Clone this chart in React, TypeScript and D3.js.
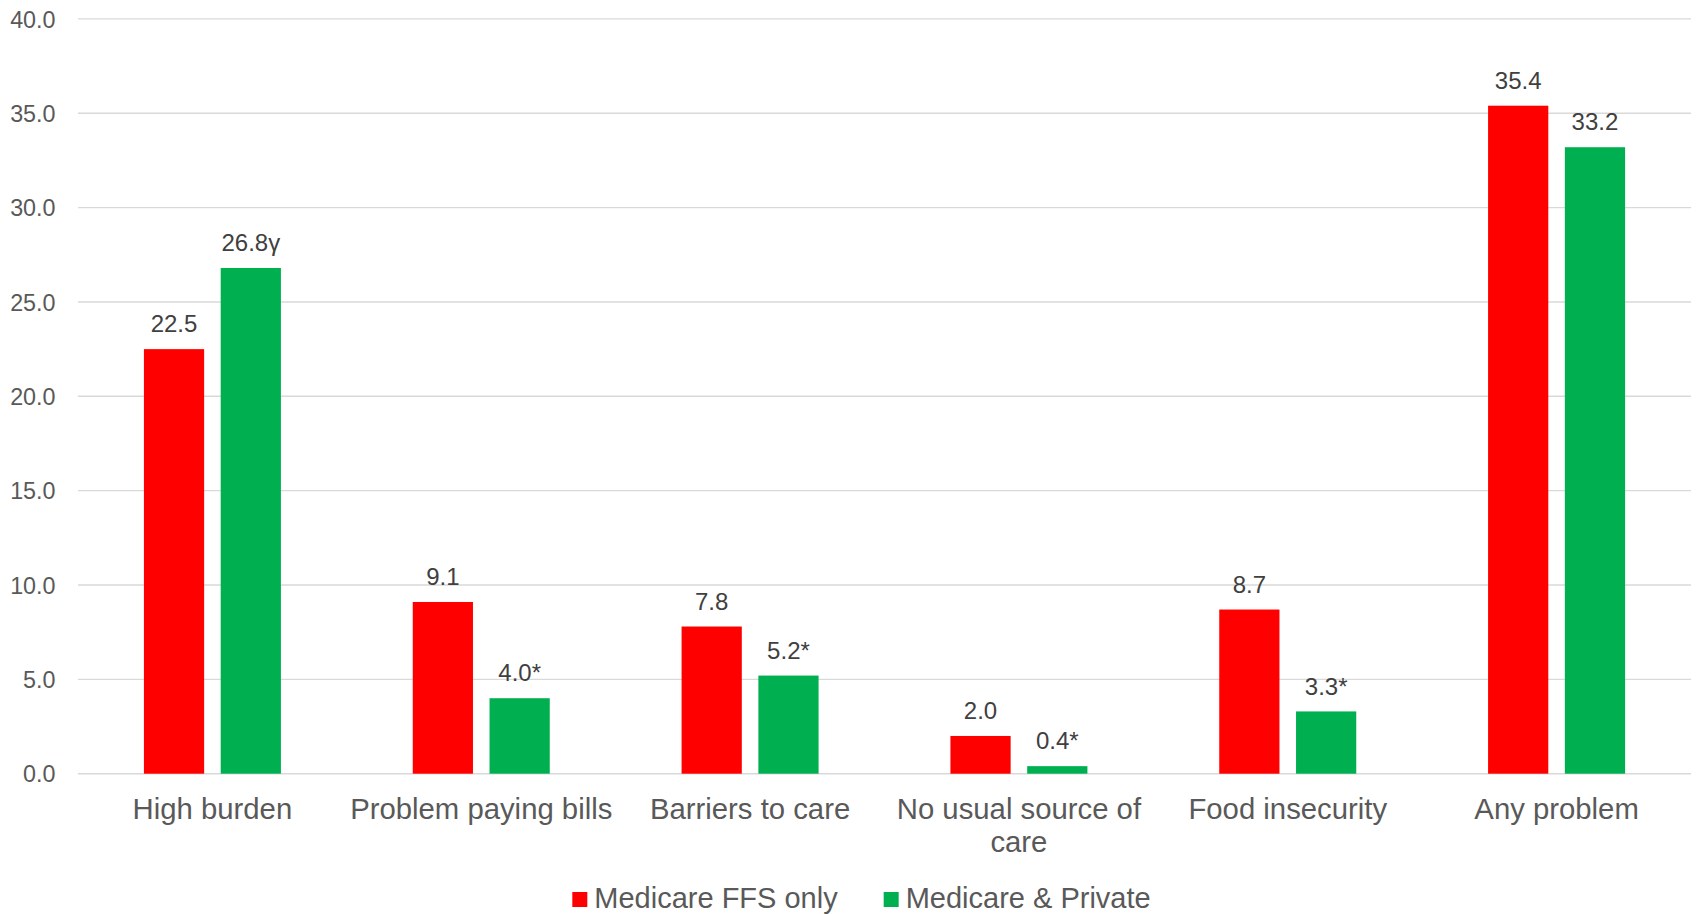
import React, { useEffect, useRef } from "react";
import * as d3 from "d3";

// Categories along the x axis
const categories = [
  "High burden",
  "Problem paying bills",
  "Barriers to care",
  "No usual source of care",
  "Food insecurity",
  "Any problem",
];

// Series names (legend order)
const seriesNames = ["Medicare FFS only", "Medicare & Private"];

// Percent values per series
const ffsOnly = [22.5, 9.1, 7.8, 2.0, 8.7, 35.4];
const medicarePrivate = [26.8, 4.0, 5.2, 0.4, 3.3, 33.2];

// Significance markers appended to the value labels
const ffsNotes = ["", "", "", "", "", ""];
const privateNotes = ["γ", "*", "*", "*", "*", ""];

// Y axis ticks
const yTicks = [0, 5, 10, 15, 20, 25, 30, 35, 40];

const seriesColors = ["#FF0000", "#00B050"];

const W = 1696;
const H = 914;
const FONT = "'Liberation Sans', Arial, Helvetica, sans-serif";

export default function App() {
  const ref = useRef<SVGSVGElement | null>(null);

  useEffect(() => {
    const svg = d3.select(ref.current);
    svg.selectAll("*").remove();

    const left = 78;
    const right = 1691;
    const top = 18.9;
    const bottom = 773.7;

    const y = d3.scaleLinear().domain([0, 40]).range([bottom, top]);
    const x0 = d3.scaleBand<string>().domain(categories).range([left, right]).padding(0);
    const bw = x0.bandwidth();
    const groupW = 137;
    const x1 = d3
      .scaleBand<string>()
      .domain(seriesNames)
      .range([(bw - groupW) / 2, (bw + groupW) / 2])
      .paddingInner(0.2157)
      .paddingOuter(0);

    const seriesValues = [ffsOnly, medicarePrivate];
    const seriesNotes = [ffsNotes, privateNotes];

    // gridlines
    const grid = svg.append("g");
    grid
      .selectAll("line")
      .data(yTicks)
      .join("line")
      .attr("x1", left)
      .attr("x2", right)
      .attr("y1", (d) => y(d))
      .attr("y2", (d) => y(d))
      .attr("stroke", "#D9D9D9")
      .attr("stroke-width", 1.4);

    // y tick labels
    svg
      .append("g")
      .selectAll("text")
      .data(yTicks)
      .join("text")
      .attr("x", 55.5)
      .attr("y", (d) => y(d) + 8.6)
      .attr("text-anchor", "end")
      .attr("font-family", FONT)
      .attr("font-size", 23.3)
      .attr("fill", "#595959")
      .text((d) => d3.format(".1f")(d));

    // bars
    const groups = svg
      .append("g")
      .selectAll("g")
      .data(categories)
      .join("g")
      .attr("transform", (c) => `translate(${x0(c)},0)`);

    seriesNames.forEach((s, si) => {
      groups
        .append("rect")
        .attr("x", x1(s)!)
        .attr("width", x1.bandwidth())
        .attr("y", (_c, i) => y(seriesValues[si][i]))
        .attr("height", (_c, i) => bottom - y(seriesValues[si][i]))
        .attr("fill", seriesColors[si]);

      groups
        .append("text")
        .attr("x", x1(s)! + x1.bandwidth() / 2)
        .attr("y", (_c, i) => y(seriesValues[si][i]) - 16.8)
        .attr("text-anchor", "middle")
        .attr("font-family", FONT)
        .attr("font-size", 24)
        .attr("fill", "#404040")
        .text((_c, i) => d3.format(".1f")(seriesValues[si][i]) + seriesNotes[si][i]);
    });

    // category labels, wrapped to the band width
    const catG = svg.append("g");
    categories.forEach((c) => {
      const t = catG
        .append("text")
        .attr("x", x0(c)! + bw / 2)
        .attr("y", 819.3)
        .attr("text-anchor", "middle")
        .attr("font-family", FONT)
        .attr("font-size", 29.3)
        .attr("fill", "#595959");
      const words = c.split(" ");
      let line: string[] = [];
      let tspan = t.append("tspan").attr("x", x0(c)! + bw / 2).attr("dy", 0);
      words.forEach((w) => {
        line.push(w);
        tspan.text(line.join(" "));
        const node = tspan.node() as SVGTSpanElement;
        if (node.getComputedTextLength() > bw - 4 && line.length > 1) {
          line.pop();
          tspan.text(line.join(" "));
          line = [w];
          tspan = t
            .append("tspan")
            .attr("x", x0(c)! + bw / 2)
            .attr("dy", 33)
            .text(w);
        }
      });
    });

    // legend
    const legend = svg.append("g");
    const sq = 15;
    const textGap = 7;
    const itemGap = 46;
    const items = seriesNames.map((s, i) => {
      const g = legend.append("g");
      g.append("rect")
        .attr("x", 0)
        .attr("y", 892)
        .attr("width", sq)
        .attr("height", sq)
        .attr("fill", seriesColors[i]);
      const t = g
        .append("text")
        .attr("x", sq + textGap)
        .attr("y", 907.5)
        .attr("font-family", FONT)
        .attr("font-size", 29)
        .attr("fill", "#595959")
        .text(s);
      const tw = (t.node() as SVGTextElement).getComputedTextLength();
      return { g, w: sq + textGap + tw };
    });
    const total = items.reduce((a, b) => a + b.w, 0) + itemGap * (items.length - 1);
    let cx = 861.5 - total / 2;
    items.forEach((it) => {
      it.g.attr("transform", `translate(${cx},0)`);
      cx += it.w + itemGap;
    });
  }, []);

  return (
    <svg
      ref={ref}
      width={W}
      height={H}
      style={{ position: "absolute", left: 0, top: 0, background: "#fff", display: "block" }}
    />
  );
}
